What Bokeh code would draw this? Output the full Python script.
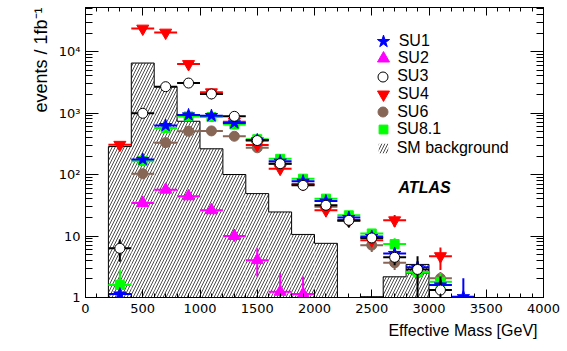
import math
import numpy as np
from bokeh.plotting import figure
from bokeh.models import (Range1d, LinearAxis, LogAxis, FixedTicker, Label, Legend,
                          LegendItem, CustomJSTickFormatter, Title, AllLabels)
from bokeh.embed import file_html
from bokeh.resources import INLINE

nan = float("nan")

# ---------------- data ----------------
bin_centers = [300, 500, 700, 900, 1100, 1300, 1500, 1700, 1900, 2100, 2300, 2500, 2700, 2900, 3100, 3300]
bin_half_width = 100

su1 = [1.14, 176, 625, 931, 907, 691, 365, 165, 78, 37, 20, 9.8, 5.2, 3.1, 1.6, 1.03]
su2 = [nan, 34.4, 56.6, 44.2, 26.2, 10.0, 4.05, 1.24, 1.14, nan, nan, nan, nan, nan, nan, nan]
su3 = [6.3, 990, 2680, 3070, 2040, 884, 357, 150, 66.6, 31.6, 18.0, 9.3, 4.5, 2.86, 1.32, nan]
su4 = [304, 23600, 20300, 6250, 2170, 720, 303, 124, 70, 26.2, 17.5, 8.5, 18.0, nan, 4.7, nan]
su6 = [nan, 103, 330, 505, 512, 419, 272, 150, 68, 30, 18, 7.1, 3.66, 2.5, 2.05, nan]
su81 = [1.6, 165, 573, 880, 860, 650, 375, 180, 85.5, 40.5, 21.7, 11, 7.4, 2.6, 1.8, nan]

# vertical error bands (lower, upper) where visible
su1_lo = [1.0, nan, nan, nan, nan, nan, nan, nan, nan, nan, nan, nan, 4.3, 2.4, nan, 1.0]
su1_hi = [1.3, nan, nan, nan, nan, nan, nan, nan, nan, nan, nan, nan, 6.2, 3.9, nan, 2.05]
su2_lo = [nan, 30, 50, 39, 23, 8.1, 2.2, 1.0, 1.0, nan, nan, nan, nan, nan, nan, nan]
su2_hi = [nan, 39, 63, 50, 30, 12.4, 6.3, 2.5, 2.2, nan, nan, nan, nan, nan, nan, nan]
su3_lo = [3.8, nan, nan, nan, nan, nan, nan, nan, nan, nan, 14, 7.8, 3.35, 1.0, 1.0, nan]
su3_hi = [8.8, nan, nan, nan, nan, nan, nan, nan, nan, nan, 22, 11, 5.5, 4.7, 2.2, nan]
su4_lo = [nan, nan, nan, nan, nan, nan, nan, nan, nan, nan, nan, nan, 14, nan, 2.8, nan]
su4_hi = [nan, nan, nan, nan, nan, nan, nan, nan, nan, nan, nan, nan, 22, nan, 6.5, nan]
su6_lo = [nan, nan, nan, nan, nan, nan, nan, nan, nan, nan, nan, 5.5, 2.8, 1.8, 1.5, nan]
su6_hi = [nan, nan, nan, nan, nan, nan, nan, nan, nan, nan, nan, 9.0, 4.6, 3.3, 2.6, nan]
su81_lo = [1.0, nan, nan, nan, nan, nan, nan, nan, nan, nan, nan, nan, 5.8, nan, 1.2, nan]
su81_hi = [2.8, nan, nan, nan, nan, nan, nan, nan, nan, nan, nan, nan, 9.2, nan, 2.5, nan]

bg_edges = [200, 400, 600, 800, 1000, 1200, 1400, 1600, 1800, 2000, 2200, 2400, 2600, 2800, 3000]
bg_values = [285, 6500, 2690, 734, 262, 100, 48.9, 24.6, 10.6, 7.6, nan, 1.03, 2.17, 3.45]

x_ticks = [0, 500, 1000, 1500, 2000, 2500, 3000, 3500, 4000]
y_ticks = [1, 10, 100, 1000, 10000]
y_tick_labels = ["1", "10", "10\u00b2", "10\u00b3", "10\u2074"]

x_min, x_max = 0, 4000
y_min, y_max = 1, 5.2e4

FONT = "Liberation Sans"
TICK_FONT = "DejaVu Sans"

# ---------------- figure ----------------
W, H = 567, 351
BL, BR, BT, BB = 85, 24, 7, 54
FW, FH = W - BL - BR, H - BT - BB

p = figure(width=W, height=H, y_axis_type="log",
           x_range=Range1d(x_min, x_max), y_range=Range1d(y_min, y_max),
           output_backend="svg", toolbar_location=None,
           min_border_left=BL, min_border_right=BR, min_border_top=BT, min_border_bottom=BB)
p.grid.visible = False
p.outline_line_color = "black"
p.outline_line_width = 1
p.background_fill_color = "white"
p.border_fill_color = "white"

x_minor = list(range(x_min, x_max + 1, 100))
y_minor = [m * 10 ** e for e in range(0, 5) for m in range(2, 10) if m * 10 ** e <= y_max]

ytick_map = {str(t): lab for t, lab in zip(y_ticks, y_tick_labels)}
yfmt = CustomJSTickFormatter(args=dict(labels=ytick_map), code="const s = labels[String(tick)]; return s === undefined ? '' : s;")
xfmt = CustomJSTickFormatter(code="return String(Math.round(tick));")
blank = CustomJSTickFormatter(code="return '';")


def style_axis(ax, major, minor, show_labels):
    ax.axis_line_color = "black"
    ax.major_tick_line_color = "black"
    ax.minor_tick_line_color = "black"
    ax.major_tick_in = major
    ax.major_tick_out = 0
    ax.minor_tick_in = minor
    ax.minor_tick_out = 0
    ax.major_label_policy = AllLabels()
    if not show_labels:
        ax.formatter = blank
        ax.major_label_text_font_size = "0px"
        ax.major_label_standoff = 0
    else:
        ax.major_label_text_font = TICK_FONT
        ax.major_label_text_color = "black"
        ax.major_label_text_font_size = "13px"


xa = p.xaxis[0]
xa.ticker = FixedTicker(ticks=x_ticks, minor_ticks=x_minor)
xa.formatter = xfmt
style_axis(xa, 8, 4, True)
xa.major_label_standoff = 6

ya = p.yaxis[0]
ya.ticker = FixedTicker(ticks=y_ticks, minor_ticks=y_minor)
ya.formatter = yfmt
style_axis(ya, 13, 7, True)
ya.major_label_standoff = 5

top_ax = LinearAxis(ticker=FixedTicker(ticks=x_ticks, minor_ticks=x_minor))
style_axis(top_ax, 8, 4, False)
p.add_layout(top_ax, "above")
right_ax = LogAxis(ticker=FixedTicker(ticks=y_ticks, minor_ticks=y_minor))
style_axis(right_ax, 13, 7, False)
p.add_layout(right_ax, "right")

# ---------------- SM background histogram ----------------
edges = np.array(bg_edges, dtype=float)
vals = np.array(bg_values, dtype=float)
floor = y_min * 0.5
finite = np.isfinite(vals)
bg = p.quad(left=edges[:-1][finite], right=edges[1:][finite], top=vals[finite],
            bottom=np.full(finite.sum(), floor),
            fill_color="white", line_color=None,
            hatch_pattern="/", hatch_color="black", hatch_scale=6, hatch_weight=0.7)
# outline (envelope only)
p.segment(x0=edges[:-1][finite], x1=edges[1:][finite], y0=vals[finite], y1=vals[finite],
          line_color="black", line_width=1)
vf = np.where(finite, vals, floor)
left_v = np.concatenate([[floor], vf])
right_v = np.concatenate([vf, [floor]])
diff = left_v != right_v
p.segment(x0=edges[diff], x1=edges[diff], y0=left_v[diff], y1=right_v[diff],
          line_color="black", line_width=1)

# ---------------- signal points ----------------
xc = np.array(bin_centers, dtype=float)
series = [
    # name, values, lo, hi, marker, size, fill, line
    ("SU6", su6, su6_lo, su6_hi, "circle", 10, "#876656", "#876656"),
    ("SU4", su4, su4_lo, su4_hi, "inverted_triangle", 12, "#ff0000", "#ff0000"),
    ("SU8.1", su81, su81_lo, su81_hi, "square", 9, "#00ff00", "#00ff00"),
    ("SU1", su1, su1_lo, su1_hi, "star", 13, "#0000ff", "#0000ff"),
    ("SU2", su2, su2_lo, su2_hi, "triangle", 12, "#ff00ff", "#ff00ff"),
    ("SU3", su3, su3_lo, su3_hi, "circle", 10, "white", "black"),
]
renderers = {}
for name, v, lo, hi, marker, size, fill, line in series:
    v = np.array(v, dtype=float)
    lo = np.array(lo, dtype=float)
    hi = np.array(hi, dtype=float)
    m = np.isfinite(v)
    bar_col = line
    p.segment(x0=xc[m] - bin_half_width, x1=xc[m] + bin_half_width, y0=v[m], y1=v[m],
              line_color=bar_col, line_width=2)
    me = np.isfinite(lo) & np.isfinite(hi)
    if me.any():
        p.segment(x0=xc[me], x1=xc[me], y0=lo[me], y1=hi[me], line_color=bar_col, line_width=2)
    r = p.scatter(x=xc[m], y=v[m], marker=marker, size=size, fill_color=fill,
                  line_color=line, line_width=1)
    renderers[name] = (r, size)

# ---------------- legend (one per row) ----------------
legend_order = ["SU1", "SU2", "SU3", "SU4", "SU6", "SU8.1"]
row_y0, row_step = 40.7, 17.75  # canvas px of first row centre, row spacing
marker_cx, text_x = 382.7, 397.0
frame_bottom = BT + FH


def add_row(label, rend, gw, cy, gh=None):
    gh = gw if gh is None else gh
    leg = Legend(items=[LegendItem(label=label, renderers=[rend])],
                 location=(marker_cx - gw / 2 - BL, frame_bottom - (cy + gh / 2)),
                 glyph_width=gw, glyph_height=gh, label_height=gh,
                 label_standoff=int(max(0, round(text_x - marker_cx - gw / 2))),
                 padding=0, margin=0, spacing=0, border_line_color=None,
                 background_fill_alpha=0, label_text_font=FONT, label_text_font_size="16px",
                 label_text_color="black")
    p.add_layout(leg)


for i, name in enumerate(legend_order):
    r, size = renderers[name]
    add_row(name, r, int(round(size / 0.4)), row_y0 + i * row_step)
add_row("SM background", bg, 12, row_y0 + 6 * row_step + 4)

# ---------------- texts ----------------
p.add_layout(Label(x=398 - BL, y=frame_bottom - 187.3, x_units="screen", y_units="screen",
                   text="ATLAS", text_font=FONT, text_font_style="bold italic",
                   text_font_size="16px", text_baseline="middle", text_color="black"))
p.add_layout(Title(text="Effective Mass [GeV]", align="right", offset=6, standoff=8,
                   text_font=FONT, text_font_size="16px", text_font_style="normal",
                   text_color="black"), "below")
p.add_layout(Title(text="events / 1fb\u207b\u00b9", align="right", offset=0, standoff=10,
                   text_font=FONT, text_font_size="18px", text_font_style="normal",
                   text_color="black"), "left")

open("out.html", "w").write(file_html(p, INLINE))
